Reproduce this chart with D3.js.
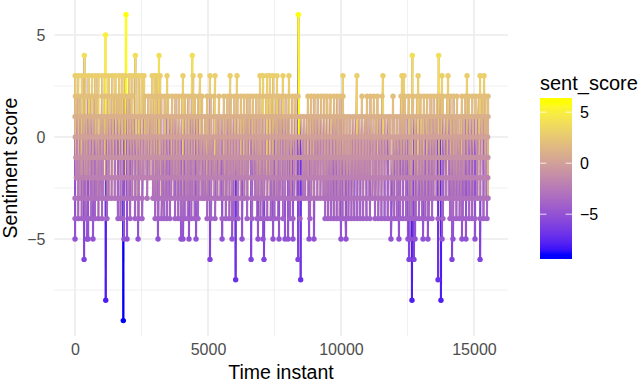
<!DOCTYPE html>
<html lang="en">
  <head>
    <meta charset="utf-8" />
    <script src="https://cdn.jsdelivr.net/npm/d3@7/dist/d3.min.js"></script>
    <title>Sentiment score</title>
    <style>
      html, body { margin: 0; padding: 0; background: #fff; }
      text { font-family: "Liberation Sans", Arial, sans-serif; }
      .tick text { fill: #4d4d4d; font-size: 16px; font-family: "Liberation Sans", Arial, sans-serif; }
    </style>
  </head>
  <body>
    <div id="container"></div>

    <script>
      const width = 640;
      const height = 382;

      // time instants, one list per sentiment score
      const at6 = [1918, 8396];
      const at5 = [1147];
      const at4 = [350, 2267, 3158, 4410, 12683, 13675];
      const at3 = [5, 120, 260, 385, 510, 640, 770, 880, 1020, 1130, 1265, 1400, 1520, 1660, 1780, 1890, 2040, 2150, 2285, 2395, 2510, 2595, 2900, 3000, 3090, 3200, 3460, 4060, 4440, 4700, 5075, 5265, 5830, 6090, 6955, 7070, 7220, 7330, 7450, 7595, 7820, 8045, 10075, 10600, 11580, 12295, 12370, 12900, 13800, 14025, 14740, 15230, 15380];
      const at2 = [15, 135, 245, 375, 495, 605, 730, 825, 1015, 1140, 1240, 1375, 1480, 1600, 1725, 1850, 1960, 2080, 2145, 2630, 2760, 2880, 2990, 3125, 3240, 3370, 3500, 3650, 3780, 3900, 4020, 4135, 4260, 4390, 4510, 4640, 4775, 4965, 5090, 5230, 5415, 5600, 5730, 5850, 5990, 6110, 6240, 6360, 6480, 6580, 6690, 6820, 6940, 7060, 7190, 7310, 7420, 7560, 7680, 7790, 7920, 8040, 8170, 8290, 8385, 8760, 8880, 9000, 9130, 9250, 9370, 9480, 9610, 9740, 9860, 9980, 10075, 10790, 10980, 11110, 11240, 11370, 11545, 11957, 12260, 12400, 12550, 12710, 12860, 12990, 13120, 13240, 13370, 13490, 13610, 13720, 13835, 13990, 14110, 14240, 14365, 14550, 14680, 14800, 14930, 15060, 15190, 15310, 15430, 15530];
      const at1 = [0, 95, 210, 320, 415, 530, 640, 745, 860, 965, 1075, 1190, 1290, 1405, 1510, 1625, 1730, 1840, 1950, 2050, 2165, 2270, 2385, 2490, 2600, 2705, 2820, 2925, 3040, 3145, 3250, 3365, 3470, 3580, 3690, 3800, 3905, 4015, 4130, 4235, 4345, 4450, 4565, 4670, 4780, 4890, 5000, 5105, 5215, 5330, 5435, 5545, 5655, 5760, 5875, 5980, 6090, 6205, 6310, 6420, 6530, 6635, 6750, 6855, 6965, 7080, 7185, 7295, 7405, 7515, 7620, 7735, 7840, 7950, 8060, 8170, 8275, 8385, 8495, 8605, 8715, 8825, 8930, 9040, 9150, 9260, 9370, 9475, 9590, 9695, 9805, 9915, 10025, 10135, 10245, 10350, 10460, 10570, 10680, 10790, 10900, 11005, 11120, 11225, 11335, 11445, 11555, 11665, 11770, 11855, 11990, 12100, 12210, 12320, 12430, 12535, 12645, 12755, 12865, 12975, 13085, 13190, 13300, 13410, 13520, 13630, 13740, 13845, 13955, 14065, 14175, 14285, 14395, 14500, 14610, 14720, 14830, 14940, 15050, 15155, 15265, 15375, 15490, 15530];
      const at0 = [10, 125, 225, 350, 440, 555, 665, 770, 885, 990, 1110, 1210, 1325, 1430, 1550, 1650, 1765, 1865, 1985, 2080, 2195, 2300, 2405, 2520, 2630, 2735, 2850, 2955, 3060, 3175, 3285, 3390, 3505, 3610, 3720, 3830, 3940, 4045, 4160, 4265, 4370, 4485, 4590, 4700, 4815, 4920, 5030, 5140, 5245, 5360, 5465, 5575, 5685, 5795, 5900, 6015, 6120, 6230, 6340, 6450, 6560, 6670, 6775, 6885, 6995, 7105, 7215, 7325, 7435, 7545, 7650, 7760, 7870, 7980, 8090, 8200, 8305, 8420, 8525, 8635, 8745, 8850, 8965, 9070, 9180, 9290, 9400, 9510, 9615, 9725, 9835, 9945, 10055, 10165, 10270, 10385, 10490, 10600, 10710, 10820, 10930, 11040, 11145, 11255, 11365, 11475, 11585, 11690, 11800, 11860, 12020, 12130, 12240, 12350, 12460, 12565, 12675, 12785, 12895, 13005, 13115, 13220, 13330, 13440, 13550, 13660, 13770, 13875, 13985, 14095, 14205, 14315, 14425, 14530, 14640, 14750, 14860, 14970, 15080, 15190, 15295, 15405, 15515];
      const atMinus1 = [30, 150, 255, 370, 480, 590, 695, 810, 915, 1035, 1135, 1250, 1355, 1470, 1575, 1690, 1795, 1905, 2015, 2120, 2225, 2340, 2445, 2555, 2665, 2775, 2880, 2995, 3100, 3210, 3320, 3425, 3540, 3650, 3755, 3865, 3975, 4085, 4195, 4300, 4410, 4520, 4630, 4735, 4850, 4955, 5065, 5175, 5285, 5390, 5500, 5610, 5720, 5830, 5935, 6050, 6155, 6265, 6375, 6485, 6595, 6705, 6810, 6925, 7030, 7140, 7250, 7360, 7470, 7580, 7690, 7800, 7905, 8015, 8125, 8235, 8345, 8450, 8560, 8670, 8780, 8890, 9000, 9105, 9215, 9325, 9435, 9545, 9655, 9760, 9870, 9980, 10090, 10200, 10310, 10415, 10525, 10635, 10745, 10855, 10965, 11075, 11180, 11290, 11400, 11510, 11620, 11730, 11835, 11945, 12055, 12165, 12275, 12385, 12490, 12600, 12710, 12820, 12930, 13040, 13150, 13255, 13365, 13475, 13585, 13695, 13805, 13910, 14020, 14130, 14240, 14350, 14460, 14565, 14675, 14785, 14895, 15005, 15115, 15225, 15330, 15440, 15525];
      const atMinus2 = [50, 165, 280, 390, 500, 610, 720, 830, 940, 1050, 1160, 1270, 1380, 1490, 1600, 1710, 1820, 1930, 2035, 2145, 2255, 2360, 2470, 2580, 2690, 2800, 2910, 3020, 3130, 3235, 3345, 3455, 3565, 3675, 3785, 3890, 4000, 4110, 4220, 4330, 4440, 4545, 4655, 4765, 4875, 4985, 5095, 5200, 5310, 5420, 5530, 5640, 5750, 5855, 5965, 6075, 6185, 6295, 6405, 6510, 6620, 6730, 6840, 6950, 7060, 7165, 7275, 7385, 7495, 7605, 7715, 7820, 7930, 8040, 8150, 8260, 8370, 8475, 8585, 8695, 8805, 8915, 9025, 9130, 9240, 9350, 9460, 9570, 9680, 9785, 9895, 10005, 10115, 10225, 10335, 10440, 10550, 10660, 10770, 10880, 10990, 11095, 11205, 11315, 11425, 11535, 11645, 11750, 11860, 11970, 12080, 12190, 12300, 12405, 12515, 12625, 12735, 12845, 12955, 13060, 13170, 13280, 13390, 13500, 13610, 13715, 13825, 13935, 14045, 14155, 14265, 14370, 14480, 14590, 14700, 14810, 14920, 15025, 15135, 15245, 15355, 15465, 15520];
      const atMinus3 = [0, 130, 240, 365, 470, 585, 700, 815, 925, 1045, 1150, 1265, 1375, 1495, 1605, 1715, 1830, 1945, 2000, 2030, 2150, 2270, 2395, 2520, 2710, 2930, 3045, 3160, 3275, 3390, 3500, 3615, 3735, 3850, 3960, 4075, 4190, 4300, 4420, 4535, 4650, 4760, 4810, 4890, 5005, 5120, 5240, 5350, 5465, 5580, 5695, 5810, 5940, 6020, 6135, 6250, 6365, 6480, 6655, 6770, 6885, 7000, 7115, 7230, 7345, 7460, 7575, 7690, 7800, 7900, 8010, 8125, 8240, 8355, 8470, 8570, 8650, 8765, 8880, 8995, 9110, 9225, 9340, 9455, 9570, 9685, 9800, 9915, 10030, 10145, 10260, 10375, 10490, 10605, 10720, 10835, 10950, 11065, 11180, 11295, 11410, 11525, 11640, 11755, 11870, 11985, 12100, 12215, 12330, 12445, 12560, 12675, 12790, 12905, 13020, 13135, 13250, 13365, 13480, 13595, 13710, 13825, 13940, 14055, 14170, 14285, 14400, 14515, 14665, 14780, 14895, 15010, 15125, 15240, 15355, 15470, 15530];
      const atMinus4 = [0, 120, 250, 375, 490, 610, 750, 880, 1015, 1200, 1615, 1710, 1805, 2070, 2255, 2390, 2520, 3010, 3130, 3250, 3355, 3460, 3570, 3760, 3880, 4000, 4120, 4240, 4370, 4500, 4625, 4965, 5110, 5265, 5530, 5670, 5800, 5940, 6130, 6470, 6655, 6845, 6970, 7100, 7225, 7360, 7495, 7635, 7820, 8085, 8195, 8460, 8835, 9400, 9510, 9620, 9730, 9840, 9950, 10060, 10170, 10280, 10390, 10500, 10610, 10720, 10830, 10960, 11090, 11280, 11400, 11520, 11640, 11760, 11880, 12000, 12110, 12220, 12330, 12450, 12570, 12690, 12810, 12930, 13050, 13170, 13300, 13425, 13650, 13835, 14100, 14220, 14340, 14460, 14580, 14700, 14820, 14930, 15040, 15230, 15360, 15490];
      const atMinus5 = [0, 450, 490, 675, 1840, 1955, 2370, 3120, 3985, 4060, 4285, 4550, 5530, 5905, 6280, 6880, 7070, 7445, 7670, 7895, 8010, 8195, 8800, 8985, 10000, 10190, 11880, 12180, 12520, 12600, 12785, 13085, 13270, 13800, 14210, 14550, 14700, 15040];
      const atMinus6 = [340, 5075, 6620, 7105, 8385, 12560, 12745, 14175, 15230];
      const atMinus7 = [6040, 8485, 13650];
      const atMinus8 = [1155, 12670, 13760];
      const atMinus9 = [1815];

      const scores = [6, 5, 4, 3, 2, 1, 0, -1, -2, -3, -4, -5, -6, -7, -8, -9];
      const instants = [at6, at5, at4, at3, at2, at1, at0, atMinus1, atMinus2, atMinus3, atMinus4, atMinus5, atMinus6, atMinus7, atMinus8, atMinus9];

      const xTicks = [0, 5000, 10000, 15000];
      const xMinor = [2500, 7500, 12500];
      const yTicks = [5, 0, -5];
      const yMinor = [2.5, -2.5, -7.5];
      const legendTicks = [5, 0, -5];

      const points = d3.sort(
        instants.flatMap((list, i) => list.map((t) => ({ t, score: scores[i] }))),
        (d) => d.t
      );

      const x = d3.scaleLinear().domain([-776, 16281]).range([54.4, 508]);
      const y = d3.scaleLinear().domain([-9.75, 6.75]).range([335.9, -0.7]);
      const colour = d3.scaleLinear().domain([-9, 6]).range(["#0000ff", "#ffff00"]).interpolate(d3.interpolateLab);

      const svg = d3.select("#container").append("svg").attr("width", width).attr("height", height).style("display", "block");

      // grid
      const grid = svg.append("g").attr("stroke", "#ebebeb").attr("fill", "none");
      const vLine = (vals, w) =>
        grid.append("g").selectAll("line").data(vals).join("line")
          .attr("x1", (d) => x(d)).attr("x2", (d) => x(d)).attr("y1", 0).attr("y2", 335.9).attr("stroke-width", w);
      const hLine = (vals, w) =>
        grid.append("g").selectAll("line").data(vals).join("line")
          .attr("y1", (d) => y(d)).attr("y2", (d) => y(d)).attr("x1", 54.4).attr("x2", 508).attr("stroke-width", w);
      vLine(xMinor, 0.75);
      hLine(yMinor, 0.75);
      vLine(xTicks, 1.5);
      hLine(yTicks, 1.5);

      // line, each piece takes the colour of its first point
      svg.append("g").selectAll("line").data(d3.pairs(points)).join("line")
        .attr("x1", (d) => x(d[0].t)).attr("y1", (d) => y(d[0].score))
        .attr("x2", (d) => x(d[1].t)).attr("y2", (d) => y(d[1].score))
        .attr("stroke", (d) => colour(d[0].score))
        .attr("stroke-width", 2.1);

      svg.append("g").selectAll("circle").data(points).join("circle")
        .attr("cx", (d) => x(d.t)).attr("cy", (d) => y(d.score)).attr("r", 2.7)
        .attr("fill", (d) => colour(d.score));

      // axes
      const xAxis = svg.append("g").attr("transform", "translate(0,335.9)")
        .call(d3.axisBottom(x).tickValues(xTicks).tickSize(0).tickPadding(8).tickFormat(d3.format("d")));
      xAxis.select(".domain").remove();
      const yAxis = svg.append("g").attr("transform", "translate(54.4,0)")
        .call(d3.axisLeft(y).tickValues(yTicks).tickSize(0).tickPadding(9));
      yAxis.select(".domain").remove();

      svg.append("text").attr("x", 281).attr("y", 379).attr("text-anchor", "middle").attr("font-size", 19.5).text("Time instant");
      svg.append("text").attr("transform", "translate(17,168) rotate(-90)").attr("text-anchor", "middle").attr("font-size", 19.5).text("Sentiment score");

      // colour bar
      const legendY = d3.scaleLinear().domain([6, -9]).range([102, 255]);
      const barTop = 98;
      const barHeight = 161;
      const gradient = svg.append("defs").append("linearGradient").attr("id", "bar").attr("x1", 0).attr("x2", 0).attr("y1", 0).attr("y2", 1);
      gradient.selectAll("stop").data(d3.range(6, -9.5, -0.5)).join("stop")
        .attr("offset", (d) => (legendY(d) - barTop) / barHeight)
        .attr("stop-color", (d) => colour(d));
      svg.append("rect").attr("x", 540).attr("y", barTop).attr("width", 32).attr("height", barHeight).attr("fill", "url(#bar)");
      const legend = svg.append("g");
      legend.selectAll(".l").data(legendTicks).join("line").attr("class", "l")
        .attr("x1", 540).attr("x2", 546.4).attr("y1", (d) => legendY(d)).attr("y2", (d) => legendY(d))
        .attr("stroke", "#fff").attr("stroke-opacity", 0.8);
      legend.selectAll(".r").data(legendTicks).join("line").attr("class", "r")
        .attr("x1", 565.6).attr("x2", 572).attr("y1", (d) => legendY(d)).attr("y2", (d) => legendY(d))
        .attr("stroke", "#fff").attr("stroke-opacity", 0.8);
      legend.selectAll("text").data(legendTicks).join("text")
        .attr("x", 580).attr("y", (d) => legendY(d)).attr("dy", "0.36em").attr("font-size", 16)
        .text((d) => d3.format("d")(d));
      svg.append("text").attr("x", 540).attr("y", 90).attr("font-size", 20).text("sent_score");
    </script>
  </body>
</html>
